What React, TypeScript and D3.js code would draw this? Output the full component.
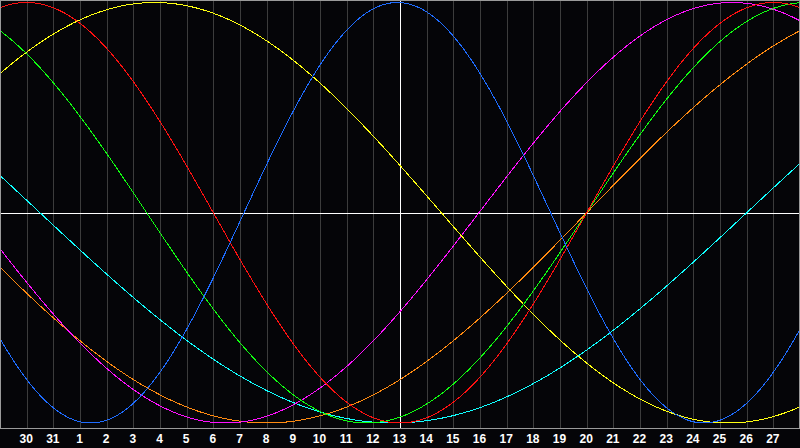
import React from "react";
import * as d3 from "d3";

const W = 800;
const H = 448;

// Day labels shown under each grid line (grid index 1..29)
const dayLabels = [
  "30", "31", "1", "2", "3", "4", "5", "6", "7", "8", "9", "10", "11", "12", "13",
  "14", "15", "16", "17", "18", "19", "20", "21", "22", "23", "24", "25", "26", "27",
];

// Biorhythm cycles: length in days and the grid index where the cycle starts (ascending zero)
const cycleNames = ["physical", "emotional", "intellectual", "intuitive", "aesthetic", "awareness", "spiritual"];
const cyclePeriods = [23, 28, 33, 38, 43, 48, 53];
const cycleStarts = [9.15, 22, 22, 17.96, -4.95, 22, 28.0];
const cycleColors = ["#1e6cff", "#ff1010", "#10ff10", "#ff10ff", "#ffff10", "#ff8a10", "#10ffff"];

const drawOrder = [6, 5, 3, 4, 2, 1, 0];

export default function App() {
  const x = d3.scaleLinear().domain([0, 30]).range([0, 800]);
  const y = d3.scaleLinear().domain([-1, 1]).range([423, 2.5]);

  const samples = d3.range(0, 30.001, 0.05);

  const line = d3
    .line<number>()
    .x((t) => x(t))
    .y((t) => 0);

  const paths = cycleNames.map((_, k) => {
    const gen = d3
      .line<number>()
      .x((t) => x(t))
      .y((t) => y(Math.sin((2 * Math.PI * (t - cycleStarts[k])) / cyclePeriods[k])));
    return gen(samples) || "";
  });
  void line;

  const gridIdx = d3.range(1, 30);

  return (
    <div style={{ position: "fixed", left: 0, top: 0, width: W, height: H, background: "#050508" }}>
      <svg width={W} height={H} style={{ display: "block" }}>
        <rect x={0} y={0} width={W} height={H} fill="#050508" />
        {gridIdx.map((i) => (
          <line
            key={"g" + i}
            x1={Math.round(x(i)) + 0.5}
            x2={Math.round(x(i)) + 0.5}
            y1={0}
            y2={428}
            stroke="#3c3c3c"
            strokeWidth={1}
            shapeRendering="crispEdges"
          />
        ))}
        <line x1={0} x2={800} y1={213.5} y2={213.5} stroke="#ffffff" strokeWidth={1} shapeRendering="crispEdges" />
        <line
          x1={Math.round(x(15)) + 0.5}
          x2={Math.round(x(15)) + 0.5}
          y1={0}
          y2={428}
          stroke="#ffffff"
          strokeWidth={1}
          shapeRendering="crispEdges"
        />
        {drawOrder.map((k) => (
          <path
            key={"c" + k}
            d={paths[k]}
            fill="none"
            stroke={cycleColors[k]}
            strokeWidth={1}
            shapeRendering="crispEdges"
          />
        ))}
        <rect
          x={0.5}
          y={0.5}
          width={798.5}
          height={427.5}
          fill="none"
          stroke="#9a9a9a"
          strokeWidth={1}
          shapeRendering="crispEdges"
        />
        {dayLabels.map((d, j) => (
          <text
            key={"t" + j}
            x={x(j + 1) - 0.5}
            y={443}
            fill="#ffffff"
            fontFamily="'Liberation Sans', Arial, sans-serif"
            fontWeight="bold"
            fontSize={12}
            textAnchor="middle"
          >
            {d}
          </text>
        ))}
      </svg>
    </div>
  );
}
